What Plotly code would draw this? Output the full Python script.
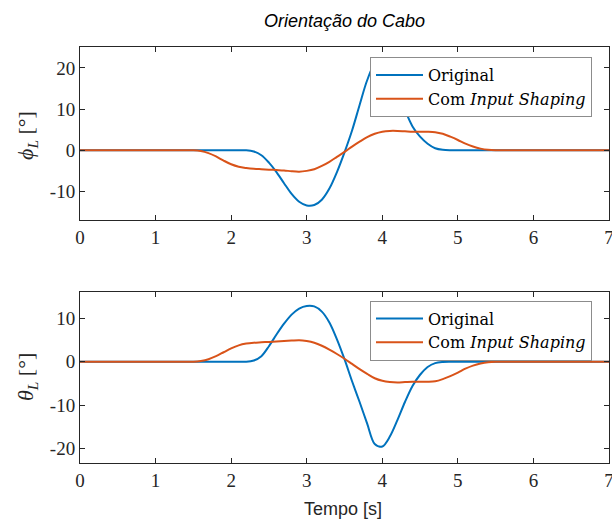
import plotly.graph_objects as go

# time samples [s]
t = [round(0.1 * i, 1) for i in range(71)]

# phi_L [deg] (top) and theta_L [deg] (bottom)
phi_original = [0.0] * 23 + [-0.3, -1.2, -3.0, -5.3, -8.0, -10.6, -12.5, -13.4, -13.3, -12.0,
                             -9.3, -5.3, -0.5, 4.8, 11.0, 17.0, 20.9, 21.4, 19.5, 14.8,
                             9.8, 5.8, 3.3, 1.6, 0.5, 0.1] + [0.0] * 22
phi_shaping = [0.0] * 16 + [-0.2, -0.7, -1.5, -2.5, -3.4, -4.0, -4.3, -4.5, -4.6, -4.7,
                            -4.8, -4.9, -5.1, -5.2, -5.0, -4.6, -3.8, -2.8, -1.6, -0.4,
                            0.9, 2.1, 3.2, 4.0, 4.5, 4.7, 4.7, 4.6, 4.5, 4.5,
                            4.5, 4.4, 4.0, 3.3, 2.5, 1.6, 0.9, 0.4, 0.1] + [0.0] * 16
theta_original = [0.0] * 23 + [0.3, 1.3, 3.6, 6.3, 8.8, 10.9, 12.3, 12.9, 12.8, 11.6,
                               9.1, 5.2, 0.6, -4.5, -9.3, -14.3, -19.0, -19.6, -17.3, -13.5,
                               -9.3, -5.6, -3.0, -1.2, -0.3, -0.05] + [0.0] * 22
theta_shaping = [0.0] * 16 + [0.2, 0.6, 1.3, 2.2, 3.1, 3.8, 4.2, 4.4, 4.5, 4.6,
                              4.7, 4.8, 4.9, 5.0, 4.8, 4.4, 3.7, 2.8, 1.8, 0.7,
                              -0.5, -1.7, -2.8, -3.8, -4.4, -4.7, -4.8, -4.7, -4.6, -4.6,
                              -4.6, -4.5, -4.0, -3.3, -2.5, -1.6, -0.9, -0.4, -0.1] + [0.0] * 16

x_ticks = [0, 1, 2, 3, 4, 5, 6, 7]
phi_ticks = [-10, 0, 10, 20]
theta_ticks = [-20, -10, 0, 10]
legend_names = ["Original", "Com <i>Input Shaping</i>"]

BLUE = "#0072BD"
ORANGE = "#D95319"
AX = "#262626"
SERIF = "Liberation Serif, DejaVu Serif, serif"
WIDE_SERIF = "DejaVu Serif, Liberation Serif, serif"
SANS = "Liberation Sans, Arial, sans-serif"

W, H = 612, 527


def px_x(p):
    return p / W


def px_y(p):
    return 1 - p / H


fig = go.Figure()
line_style = dict(width=2, shape="spline", smoothing=0.9)
fig.add_trace(go.Scatter(x=t, y=phi_original, name=legend_names[0], mode="lines",
                         line=dict(color=BLUE, **line_style),
                         xaxis="x", yaxis="y", legend="legend"))
fig.add_trace(go.Scatter(x=t, y=phi_shaping, name=legend_names[1], mode="lines",
                         line=dict(color=ORANGE, **line_style),
                         xaxis="x", yaxis="y", legend="legend"))
fig.add_trace(go.Scatter(x=t, y=theta_original, name=legend_names[0], mode="lines",
                         line=dict(color=BLUE, **line_style),
                         xaxis="x2", yaxis="y2", legend="legend2"))
fig.add_trace(go.Scatter(x=t, y=theta_shaping, name=legend_names[1], mode="lines",
                         line=dict(color=ORANGE, **line_style),
                         xaxis="x2", yaxis="y2", legend="legend2"))


def neg(v):
    return ("-" + str(-v)) if v < 0 else str(v)


axis_common = dict(showline=True, linecolor=AX, linewidth=1, mirror="ticks",
                   ticks="inside", ticklen=5, tickcolor=AX, showgrid=False,
                   zeroline=False, tickfont=dict(family=SERIF, size=19, color=AX),
                   automargin=False, ticklabeloverflow="allow")

xdom = [px_x(80), px_x(609)]
top_dom = [px_y(220.3), px_y(47.3)]
bot_dom = [px_y(463), px_y(291.7)]

legend_common = dict(bgcolor="white", bordercolor="#8c8c8c", borderwidth=1,
                     font=dict(family=WIDE_SERIF, size=16, color="black"),
                     xanchor="left", yanchor="top", tracegroupgap=0,
                     itemwidth=47)

fig.update_layout(
    width=W, height=H,
    margin=dict(l=0, r=0, t=0, b=0),
    paper_bgcolor="white", plot_bgcolor="white",
    showlegend=True,
    xaxis=dict(domain=xdom, range=[0, 7], anchor="y", tickvals=x_ticks,
               ticktext=[str(v) for v in x_ticks], **axis_common),
    yaxis=dict(domain=top_dom, range=[-17, 25], anchor="x", tickvals=phi_ticks,
               ticktext=[neg(v) for v in phi_ticks], **axis_common),
    xaxis2=dict(domain=xdom, range=[0, 7], anchor="y2", tickvals=x_ticks,
                ticktext=[str(v) for v in x_ticks], **axis_common),
    yaxis2=dict(domain=bot_dom, range=[-23.4, 16.2], anchor="x2", tickvals=theta_ticks,
                ticktext=[neg(v) for v in theta_ticks], **axis_common),
    legend=dict(x=px_x(370), y=px_y(57), **legend_common),
    legend2=dict(x=px_x(370), y=px_y(300.5), **legend_common),
    annotations=[
        dict(text="<i>Orientação do Cabo</i>", x=px_x(344.5), y=px_y(21),
             xref="paper", yref="paper", showarrow=False,
             font=dict(family=SANS, size=18, color="black"),
             xanchor="center", yanchor="middle"),
        dict(text="Tempo [s]", x=px_x(343), y=px_y(509),
             xref="paper", yref="paper", showarrow=False,
             font=dict(family=SANS, size=18, color=AX),
             xanchor="center", yanchor="middle"),
        dict(text="<i>ϕ</i><sub><i>L</i></sub> [°]", x=px_x(27), y=px_y(136),
             xref="paper", yref="paper", showarrow=False, textangle=-90,
             font=dict(family=SERIF, size=22, color=AX),
             xanchor="center", yanchor="middle"),
        dict(text="<i>θ</i><sub><i>L</i></sub> [°]", x=px_x(27), y=px_y(377),
             xref="paper", yref="paper", showarrow=False, textangle=-90,
             font=dict(family=SERIF, size=22, color=AX),
             xanchor="center", yanchor="middle"),
    ],
)

fig.write_html("out.html")
